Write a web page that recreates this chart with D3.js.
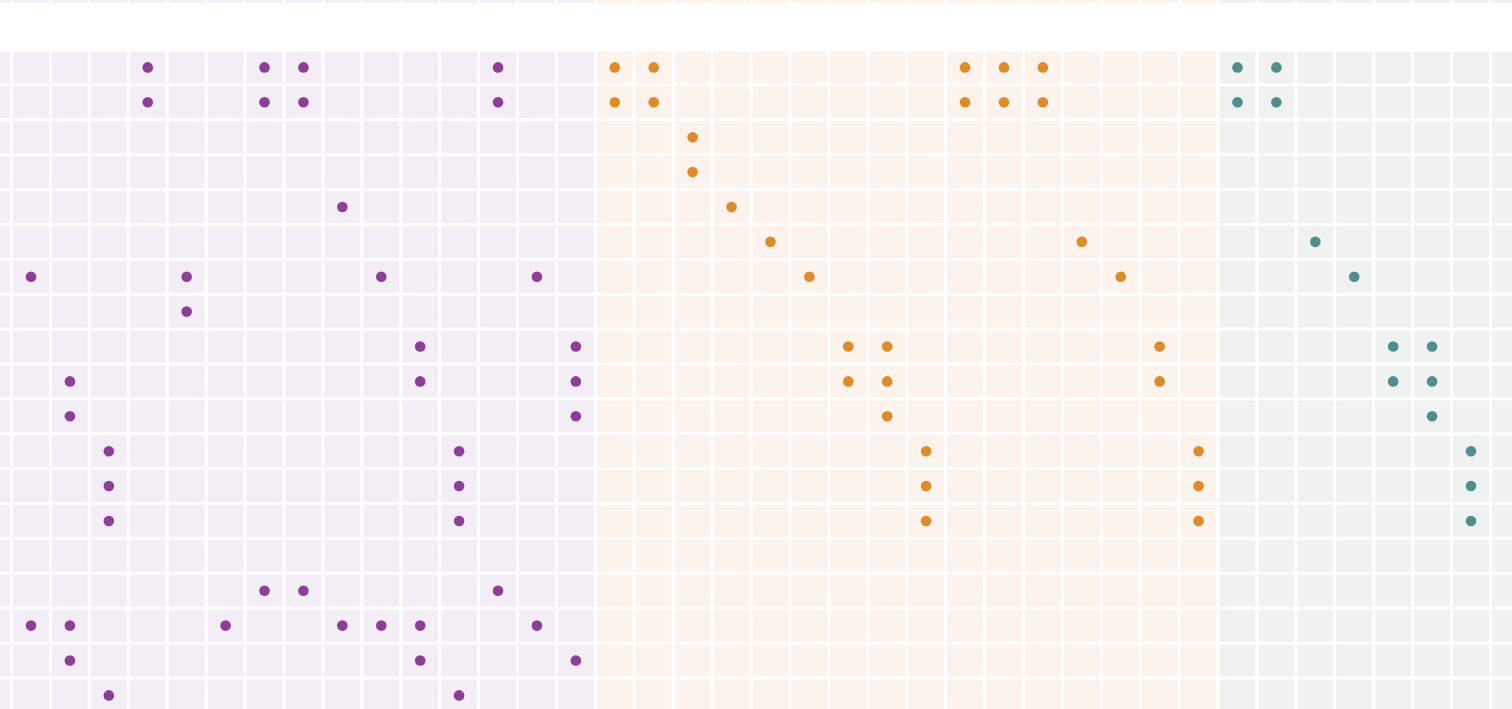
<!DOCTYPE html>
<html>
<head>
<meta charset="utf-8">
<script src="https://cdn.jsdelivr.net/npm/d3@7"></script>
<style>
  html, body { margin: 0; padding: 0; background: #fff; overflow: hidden; }
  svg { display: block; }
</style>
</head>
<body>
<svg id="chart" width="1512" height="709"></svg>
<script>
// Column groups (column index ranges) and their colours
const groupNames = ["A", "B", "C"];
const groupFirstCol = [-1, 15, 31];
const groupLastCol = [14, 30, 38];
const groupDot = ["#8E3D98", "#E08A28", "#4F8E8C"];
const groupBg = ["#F3EEF6", "#FCF3EC", "#F0F2F1"];

// Grid rows/cols shown
const firstCol = -1, lastCol = 38;
const firstRow = -2, lastRow = 19;

// Dots: for each row (0..18), the columns that hold a dot
const rowDots = [
  [3, 6, 7, 12, 15, 16, 24, 25, 26, 31, 32],
  [3, 6, 7, 12, 15, 16, 24, 25, 26, 31, 32],
  [17],
  [17],
  [8, 18],
  [19, 27, 33],
  [0, 4, 9, 13, 20, 28, 34],
  [4],
  [10, 14, 21, 22, 29, 35, 36],
  [1, 10, 14, 21, 22, 29, 35, 36],
  [1, 14, 22, 36],
  [2, 11, 23, 30, 37],
  [2, 11, 23, 30, 37],
  [2, 11, 23, 30, 37],
  [],
  [6, 7, 12],
  [0, 1, 5, 8, 9, 10, 13],
  [1, 10, 14],
  [2, 11]
];

const svg = d3.select("#chart");
const W = 1512, H = 709;

const x = d3.scaleLinear().domain([0, 37]).range([31, 1471]);
const y = d3.scaleLinear().domain([0, 18]).range([67.4, 695.4]);
const stepX = x(1) - x(0);
const stepY = y(1) - y(0);
const gap = 3;

function groupOf(c) {
  for (let g = 0; g < groupNames.length; g++) {
    if (c >= groupFirstCol[g] && c <= groupLastCol[g]) return g;
  }
  return groupNames.length - 1;
}

const cells = [];
for (let r = firstRow; r <= lastRow; r++) {
  for (let c = firstCol; c <= lastCol; c++) cells.push({ r, c });
}

svg.append("g").selectAll("rect")
  .data(cells)
  .join("rect")
  .attr("x", d => x(d.c) - stepX / 2 + gap / 2)
  .attr("y", d => y(d.r) - stepY / 2 + gap / 2)
  .attr("width", stepX - gap)
  .attr("height", stepY - gap)
  .attr("fill", d => groupBg[groupOf(d.c)]);

const dots = [];
rowDots.forEach((cols, r) => cols.forEach(c => dots.push({ r, c })));

svg.append("g").selectAll("circle")
  .data(dots)
  .join("circle")
  .attr("cx", d => x(d.c))
  .attr("cy", d => y(d.r))
  .attr("r", 5.3)
  .attr("fill", d => groupDot[groupOf(d.c)]);

// white header band
svg.append("rect")
  .attr("x", 0).attr("y", 3)
  .attr("width", W)
  .attr("height", y(0) - stepY / 2 + gap / 2 - 3)
  .attr("fill", "#fff");
</script>
</body>
</html>
